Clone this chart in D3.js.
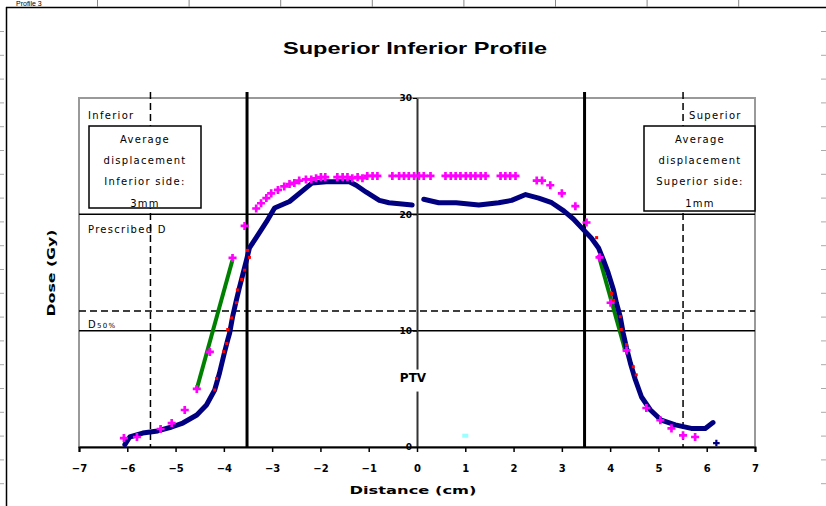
<!DOCTYPE html>
<html><head><meta charset="utf-8">
<script src="https://cdn.jsdelivr.net/npm/d3@7"></script>
<style>
html,body{margin:0;padding:0;background:#fff;}
svg{display:block;}
.px{font-family:"DejaVu Sans",sans-serif;}
</style></head>
<body><svg id="c" width="826" height="506"></svg>
<script>
// ---------- data ----------
const xTicks = [-7,-6,-5,-4,-3,-2,-1,0,1,2,3,4,5,6,7];
const yTicks = [0,10,20,30];
// measured profile (navy); null marks the gap in the scan
const measX = [-6.05,-5.95,-5.68,-5.37,-5.08,-4.85,-4.56,-4.36,-4.19,-4.09,-3.99,-3.92,-3.88,-3.82,-3.74,-3.68,-3.61,-3.53,-3.47,-3.32,-3.12,-2.95,-2.64,-2.29,-2.17,-1.88,-1.40,-1.26,-1.05,-0.78,-0.58,-0.10,
  0.02,
  0.14,0.45,0.81,1.28,1.69,1.96,2.25,2.52,2.79,3.04,3.24,3.45,3.61,3.76,3.86,3.96,4.07,4.13,4.21,4.27,4.34,4.42,4.52,4.65,4.83,5.06,5.35,5.68,5.97,6.13];
const measY = [0.2,0.86,1.2,1.38,1.72,2.06,2.75,3.61,4.9,6.36,8.08,9.2,9.8,11.18,12.64,13.67,14.79,16.08,17.11,18.06,19.35,20.55,21.1,22.3,22.7,22.8,22.8,22.5,21.9,21.2,21.0,20.8,
  null,
  21.3,21.0,21.0,20.8,21.0,21.2,21.7,21.4,21.0,20.3,19.6,18.66,17.97,17.11,16.08,14.96,13.5,12.38,11.18,9.8,8.51,7.2,5.8,4.3,3.2,2.3,1.9,1.6,1.6,2.1];
// calculated profile (magenta crosses)
const calcX = [-6.07,-5.80,-5.31,-5.08,-4.81,-4.56,-4.29,-3.82,-3.57,-3.33,-3.23,-3.12,-3.02,-2.88,-2.75,-2.64,-2.54,-2.44,-2.30,-2.19,-2.09,-1.99,-1.90,-1.65,-1.54,-1.44,-1.34,-1.23,-1.13,-1.03,-0.92,-0.82,-0.51,-0.37,-0.27,-0.17,-0.06,0.04,0.14,0.28,0.59,0.70,0.80,0.90,1.01,1.11,1.21,1.32,1.42,1.73,1.83,1.93,2.04,2.48,2.59,2.76,3.00,3.28,3.51,3.78,4.01,4.34,4.75,5.04,5.27,5.51,5.76];
const calcY = [0.77,0.86,1.55,2.06,3.18,4.99,8.17,16.25,19.0,20.5,20.95,21.4,21.8,22.1,22.4,22.6,22.7,22.9,23.0,23.0,23.1,23.2,23.2,23.2,23.2,23.2,23.1,23.2,23.1,23.3,23.3,23.3,23.3,23.3,23.3,23.3,23.3,23.3,23.3,23.3,23.3,23.3,23.3,23.3,23.3,23.3,23.3,23.3,23.3,23.3,23.3,23.3,23.3,22.9,22.9,22.5,21.8,20.7,19.3,16.3,12.4,8.3,3.35,2.3,1.6,1.0,0.86];
// red edge samples
const edgeX = [-4.19,-4.15,-4.0,-3.94,-3.92,-3.84,-3.74,-3.72,-3.63,-3.57,-3.51,-3.47,3.72,4.03,4.07,4.21,4.23,4.34,4.48,4.54];
const edgeY = [4.9,5.9,8.2,8.9,10.1,11.1,12.4,13.5,14.4,15.2,16.9,16.3,18.0,13.2,12.6,11.2,10.1,8.8,6.9,6.2];
// green penumbra fits
const fitLeftX = [-4.56,-3.82], fitLeftY = [5.0,16.1];
const fitRightX = [3.76,4.32], fitRightY = [16.5,8.2];
// single points
const cyanPt = [1.0,0.97];
const bluePt = [6.2,0.34];
// reference lines
const thickX = [-3.52,3.47];
const dashX = [-5.52,5.51];
const solidY = [20,10];
const dashY = [11.7];

const svg = d3.select("#c");
const x = d3.scaleLinear().domain([-7,7]).range([79,755]);
const y = d3.scaleLinear().domain([0,30]).range([447,98]);

// ---------- sheet decoration ----------
svg.append("text").attr("x",16).attr("y",6).attr("font-family","Liberation Sans").attr("font-size",7).text("Profile 3");
svg.append("line").attr("x1",6).attr("x2",826).attr("y1",7.5).attr("y2",7.5).attr("stroke","#000").attr("stroke-width",1.5);
svg.append("line").attr("x1",6.5).attr("x2",6.5).attr("y1",7).attr("y2",506).attr("stroke","#000").attr("stroke-width",1.5);
svg.selectAll(".ct").data(d3.range(8)).enter().append("line")
  .attr("x1",d=>97.5+91.6*d).attr("x2",d=>97.5+91.6*d).attr("y1",0).attr("y2",7).attr("stroke","#888");
svg.selectAll(".rl").data(d3.range(20)).enter().append("line")
  .attr("x1",0).attr("x2",4).attr("y1",d=>31.5+23.8*d).attr("y2",d=>31.5+23.8*d).attr("stroke","#aaa");
svg.selectAll(".rr").data(d3.range(20)).enter().append("line")
  .attr("x1",821).attr("x2",826).attr("y1",d=>31.5+23.8*d).attr("y2",d=>31.5+23.8*d).attr("stroke","#aaa");

// title
svg.append("text").attr("x",415).attr("y",54).attr("text-anchor","middle")
  .attr("font-family","Liberation Sans").attr("font-weight","bold").attr("font-size",17)
  .attr("textLength",264).attr("lengthAdjust","spacingAndGlyphs").text("Superior Inferior Profile");

// plot border
svg.append("rect").attr("x",x(-7)).attr("y",y(30)).attr("width",x(7)-x(-7)).attr("height",y(0)-y(30))
  .attr("fill","none").attr("stroke","#999").attr("stroke-width",2);

// horizontal reference lines
svg.selectAll(".hs").data(solidY).enter().append("line")
  .attr("x1",x(-7)).attr("x2",x(7)).attr("y1",d=>y(d)).attr("y2",d=>y(d)).attr("stroke","#000").attr("stroke-width",1.5);
svg.selectAll(".hd").data(dashY).enter().append("line")
  .attr("x1",x(-7)).attr("x2",x(7)).attr("y1",d=>y(d)).attr("y2",d=>y(d)).attr("stroke","#000").attr("stroke-width",1.5).attr("stroke-dasharray","7,4");
// vertical reference lines
svg.selectAll(".vd").data(dashX).enter().append("line")
  .attr("x1",d=>x(d)).attr("x2",d=>x(d)).attr("y1",y(30)-6).attr("y2",y(0)).attr("stroke","#000").attr("stroke-width",1.5).attr("stroke-dasharray","7,4");
svg.selectAll(".vt").data(thickX).enter().append("line")
  .attr("x1",d=>x(d)).attr("x2",d=>x(d)).attr("y1",y(30)-6).attr("y2",y(0)).attr("stroke","#000").attr("stroke-width",3);

// y axis at x=0
const ya = svg.append("g").attr("transform",`translate(${x(0)},0)`)
  .call(d3.axisLeft(y).tickValues(yTicks).tickSize(4).tickSizeOuter(0).tickPadding(1).tickFormat(d3.format("d")));
ya.select(".domain").attr("stroke","#333").attr("stroke-width",2);
ya.selectAll("text").attr("font-family","DejaVu Sans").attr("font-weight","bold").attr("font-size",9);
// x axis
const xa = svg.append("g").attr("transform",`translate(0,${y(0)})`)
  .call(d3.axisBottom(x).tickValues(xTicks).tickSize(5).tickSizeOuter(5).tickPadding(13).tickFormat(d3.format("d")));
xa.select(".domain").attr("stroke","#000").attr("stroke-width",2);
xa.selectAll(".tick line").attr("stroke-width",1.5);
xa.selectAll("text").attr("font-family","DejaVu Sans").attr("font-weight","bold").attr("font-size",10);

// PTV label
svg.append("rect").attr("x",x(0)-21).attr("y",y(6.4)-3).attr("width",38).attr("height",22).attr("fill","#fff");
svg.append("text").attr("x",x(0)-4).attr("y",y(5.6)).attr("text-anchor","middle")
  .attr("font-family","DejaVu Sans").attr("font-weight","bold").attr("font-size",12).text("PTV");

// ---------- series ----------
const lg = d3.line().defined(d=>d[1]!==null).x(d=>x(d[0])).y(d=>y(d[1]));
svg.append("path").datum(d3.zip(fitLeftX,fitLeftY)).attr("d",lg).attr("fill","none").attr("stroke","#008000").attr("stroke-width",4);
svg.append("path").datum(d3.zip(fitRightX,fitRightY)).attr("d",lg).attr("fill","none").attr("stroke","#008000").attr("stroke-width",4);
svg.append("path").datum(d3.zip(measX,measY)).attr("d",lg).attr("fill","none").attr("stroke","#000080").attr("stroke-width",5).attr("stroke-linejoin","round").attr("stroke-linecap","round");
svg.selectAll(".ed").data(d3.zip(edgeX,edgeY)).enter().append("rect")
  .attr("x",d=>x(d[0])-1.5).attr("y",d=>y(d[1])-1.5).attr("width",3).attr("height",3).attr("fill","#ff0000");
const cross = d3.symbol().type(d3.symbolCross).size(36);
svg.selectAll(".cc").data(d3.zip(calcX,calcY)).enter().append("path")
  .attr("d",cross).attr("transform",d=>`translate(${x(d[0])},${y(d[1])})`).attr("fill","#ff00ff");
svg.append("rect").attr("x",x(cyanPt[0])-3).attr("y",y(cyanPt[1])-2).attr("width",6).attr("height",4).attr("fill","#99ffff");
svg.append("path").attr("d",d3.symbol().type(d3.symbolCross).size(24)).attr("transform",`translate(${x(bluePt[0])},${y(bluePt[1])})`).attr("fill","#000080");

// ---------- annotations ----------
function txt(tx,ty,s,anchor){
  return svg.append("text").attr("class","px").attr("x",tx).attr("y",ty).attr("text-anchor",anchor||"start")
    .attr("font-size",10).attr("letter-spacing","1.3px").attr("fill","#000").text(s);
}
txt(88,119,"Inferior");
txt(689,119,"Superior");
svg.append("rect").attr("x",89).attr("y",126).attr("width",112).attr("height",82).attr("fill","#fff").attr("stroke","#000").attr("stroke-width",1.5);
svg.append("rect").attr("x",644).attr("y",126).attr("width",111).attr("height",85).attr("fill","#fff").attr("stroke","#000").attr("stroke-width",1.5);
const leftLines = ["Average","displacement","Inferior side:","3mm"];
const rightLines = ["Average","displacement","Superior side:","1mm"];
const lineY = [143,164,185,207];
leftLines.forEach((s,i)=>txt(145,lineY[i],s,"middle"));
rightLines.forEach((s,i)=>txt(700,lineY[i],s,"middle"));
txt(88,233,"Prescribed D");
const dl = txt(88,328,"D");
dl.append("tspan").attr("font-size",7).text("50%");

// axis titles
svg.append("text").attr("x",413).attr("y",494).attr("text-anchor","middle")
  .attr("font-family","DejaVu Sans").attr("font-weight","bold").attr("font-size",11)
  .attr("textLength",127).attr("lengthAdjust","spacingAndGlyphs").text("Distance (cm)");
svg.append("text").attr("transform","translate(55,273) rotate(-90)").attr("text-anchor","middle")
  .attr("font-family","DejaVu Sans").attr("font-weight","bold").attr("font-size",11)
  .attr("textLength",87).attr("lengthAdjust","spacingAndGlyphs").text("Dose (Gy)");
</script></body></html>
